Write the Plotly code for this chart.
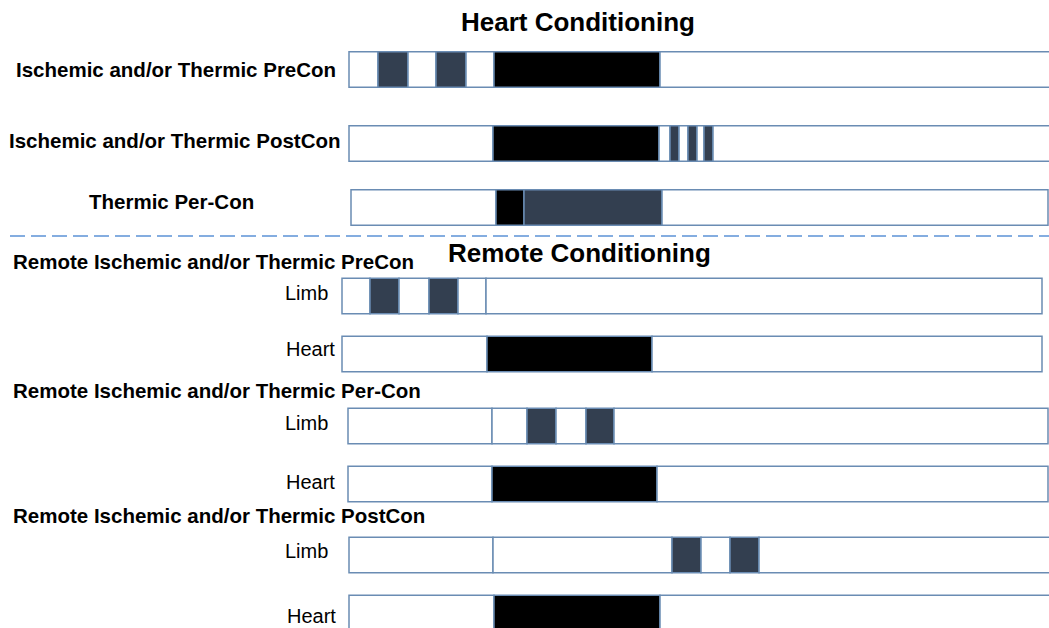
import plotly.graph_objects as go
import numpy as np

# ---- data: timeline segments per protocol row (timeline units) ----
row_names = [
    "PreCon", "PostCon", "PerCon",
    "Remote PreCon Limb", "Remote PreCon Heart",
    "Remote PerCon Limb", "Remote PerCon Heart",
    "Remote PostCon Limb", "Remote PostCon Heart",
]
row_center = [69.5, 143.5, 207.5, 296, 354, 426, 484, 555, 613]
row_start = [349, 349, 351, 342, 342, 348, 348, 349, 349]

# W = rest (white), D = conditioning cycle (dark), B = index ischemia (black)
seg_kind = [
    ["W", "D", "W", "D", "W", "B", "W"],
    ["W", "B", "W", "D", "W", "D", "W", "D", "W"],
    ["W", "B", "D", "W"],
    ["W", "D", "W", "D", "W", "W"],
    ["W", "B", "W"],
    ["W", "W", "D", "W", "D", "W"],
    ["W", "B", "W"],
    ["W", "W", "D", "W", "D", "W"],
    ["W", "B", "W"],
]
seg_len = [
    [29, 30, 28, 30, 28, 166, 400],
    [144, 166, 11, 9, 9, 9, 7, 9, 347],
    [145, 28, 138, 386],
    [28, 29, 30, 29, 28, 556],
    [145, 165, 390],
    [144, 35, 29, 30, 28, 434],
    [144, 165, 391],
    [144, 179, 29, 29, 29, 300],
    [145, 166, 400],
]

kind_color = {"W": "#ffffff", "D": "#333f50", "B": "#000000"}

# ---- text labels ----
heading_texts = ["Heart Conditioning", "Remote Conditioning"]
heading_x = [578, 579]
heading_y = [22, 253]

label_texts = [
    "Ischemic and/or Thermic PreCon",
    "Ischemic and/or Thermic PostCon",
    "Thermic Per-Con",
    "Remote Ischemic and/or Thermic PreCon",
    "Remote Ischemic and/or Thermic Per-Con",
    "Remote Ischemic and/or Thermic PostCon",
]
label_x = [338, 343, 256, 11, 11, 11]
label_anchor = ["right", "right", "right", "left", "left", "left"]
label_y = [69, 140, 201, 261, 390, 515]

sub_texts = ["Limb", "Heart", "Limb", "Heart", "Limb", "Heart"]
sub_x = [330, 337, 330, 337, 330, 338]
sub_y = [293, 349, 423, 482, 551, 616]

FONT = "Liberation Sans, Arial, sans-serif"
W, H = 1049, 628

fig = go.Figure()
for name, yc, x0, kinds, lens in zip(row_names, row_center, row_start, seg_kind, seg_len):
    lens = np.array(lens, dtype=float)
    bases = x0 + np.concatenate([[0], np.cumsum(lens)[:-1]])
    fig.add_trace(go.Bar(
        orientation="h",
        y=[yc] * len(lens),
        x=lens,
        base=bases,
        width=35.5,
        marker=dict(color=[kind_color[k] for k in kinds],
                    line=dict(color="#6a8cb3", width=1.5)),
        name=name,
        showlegend=False,
        hoverinfo="skip",
    ))

annotations = []
for t, x, y in zip(heading_texts, heading_x, heading_y):
    annotations.append(dict(x=x, y=y, text="<b>%s</b>" % t, showarrow=False,
                            xanchor="center", yanchor="middle",
                            font=dict(family=FONT, size=26, color="#000000")))
for t, x, y, a in zip(label_texts, label_x, label_y, label_anchor):
    annotations.append(dict(x=x, y=y, text="<b>%s</b>" % t, showarrow=False,
                            xanchor=a, yanchor="middle",
                            font=dict(family=FONT, size=20.5, color="#000000")))
for t, x, y in zip(sub_texts, sub_x, sub_y):
    annotations.append(dict(x=x, y=y, text=t, showarrow=False,
                            xanchor="right", yanchor="middle",
                            font=dict(family=FONT, size=20, color="#000000")))

fig.update_layout(
    width=W, height=H,
    margin=dict(l=0, r=0, t=0, b=0),
    paper_bgcolor="#ffffff", plot_bgcolor="#ffffff",
    barmode="overlay",
    xaxis=dict(range=[0, W], visible=False, fixedrange=True),
    yaxis=dict(range=[H, 0], visible=False, fixedrange=True),
    annotations=annotations,
    shapes=[dict(type="line", xref="x", yref="y", x0=10, x1=1060, y0=236, y1=236,
                 line=dict(color="#84ade0", width=2, dash="15px,6px"))],
)

fig.write_html(
    "out.html",
    config={"displayModeBar": False, "staticPlot": True},
    post_script="document.body.style.margin='0';document.body.style.overflow='hidden';",
)
